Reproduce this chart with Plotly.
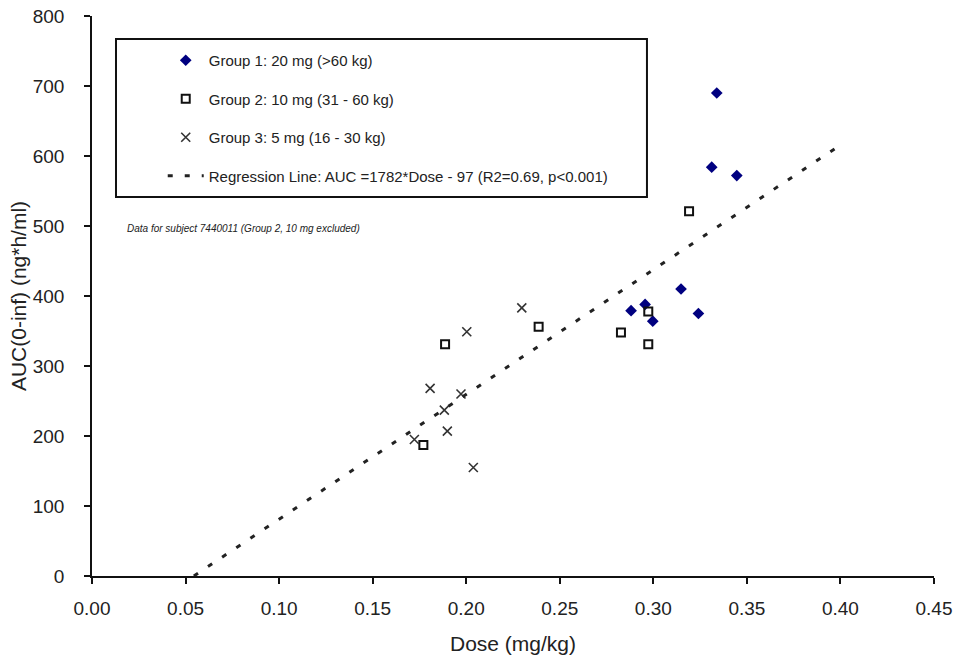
import plotly.graph_objects as go

# Dose (mg/kg) and AUC(0-inf) (ng*h/ml) per subject, by dose group
g1_dose = [0.3339, 0.3312, 0.3446, 0.3148, 0.2881, 0.2956, 0.2997, 0.3241]
g1_auc = [690, 584, 572, 410, 379, 388, 364, 375]

g2_dose = [0.3191, 0.2973, 0.2827, 0.2973, 0.2387, 0.1887, 0.1771]
g2_auc = [521, 378, 348, 331, 356, 331, 187]

g3_dose = [0.2297, 0.2003, 0.1807, 0.1972, 0.1883, 0.1899, 0.1723, 0.2038]
g3_auc = [383, 349, 268, 260, 237, 207, 195, 155]

# Regression: AUC = 1782*Dose - 97, drawn from AUC=0 up to Dose=0.40
reg_slope = 1782
reg_intercept = -97
reg_x_end = 0.40

x_ticks = [0.00, 0.05, 0.10, 0.15, 0.20, 0.25, 0.30, 0.35, 0.40, 0.45]
y_ticks = [0, 100, 200, 300, 400, 500, 600, 700, 800]

FONT = "Liberation Sans, Arial, sans-serif"
TXT = "#222222"

reg_x = [-reg_intercept / reg_slope, reg_x_end]
reg_y = [reg_slope * x + reg_intercept for x in reg_x]

fig = go.Figure()
fig.add_trace(go.Scatter(
    x=g1_dose, y=g1_auc, mode="markers", name="Group 1: 20 mg (>60 kg)",
    legendgroup="g1",
    marker=dict(symbol="diamond", size=9, color="#000080",
                line=dict(width=0)),
))
fig.add_trace(go.Scatter(
    x=g2_dose, y=g2_auc, mode="markers", name="Group 2: 10 mg (31 - 60 kg)",
    legendgroup="g2",
    marker=dict(symbol="square-open", size=8, color="#111111",
                line=dict(width=2, color="#111111")),
))
fig.add_trace(go.Scatter(
    x=g3_dose, y=g3_auc, mode="markers", name="Group 3: 5 mg (16 - 30 kg)",
    legendgroup="g3",
    marker=dict(symbol="x-thin", size=9, color="#333333",
                line=dict(width=1.6, color="#333333")),
))
fig.add_trace(go.Scatter(
    x=reg_x, y=reg_y, mode="lines",
    name="Regression Line: AUC =1782*Dose - 97 (R2=0.69, p<0.001)",
    legendgroup="reg",
    line=dict(color="#222222", width=3, dash="5px,12px"),
))

fig.update_layout(
    width=959, height=657,
    margin=dict(l=92, r=25, t=16, b=81),
    paper_bgcolor="white", plot_bgcolor="white",
    font=dict(family=FONT, color=TXT),
    showlegend=True,
    legend=dict(
        x=0.084, y=0.950, xanchor="left", yanchor="top",
        bgcolor="rgba(0,0,0,0)", borderwidth=0,
        font=dict(size=15, family=FONT, color=TXT),
        tracegroupgap=16, itemwidth=36,
    ),
    xaxis=dict(
        range=[0, 0.45], tickvals=x_ticks, tickformat=".2f",
        automargin=False,
        showgrid=False, zeroline=False,
        showline=True, linecolor="#111111", linewidth=1.5,
        ticks="outside", ticklen=6, tickwidth=1.5, tickcolor="#111111",
        ticklabelstandoff=8,
        tickfont=dict(size=19, family=FONT, color=TXT),
        title=dict(text="Dose (mg/kg)", font=dict(size=21, family=FONT, color=TXT),
                   standoff=19),
    ),
    yaxis=dict(
        range=[0, 800], tickvals=y_ticks,
        automargin=False,
        showgrid=False, zeroline=False,
        showline=True, linecolor="#111111", linewidth=1.5,
        ticks="outside", ticklen=6, tickwidth=1.5, tickcolor="#111111",
        ticklabelstandoff=16,
        tickfont=dict(size=19, family=FONT, color=TXT),
        title=dict(text="AUC(0-inf) (ng*h/ml)", font=dict(size=21, family=FONT, color=TXT),
                   standoff=0),
    ),
    shapes=[dict(
        type="rect", xref="paper", yref="paper",
        x0=0.0285, x1=0.6591, y0=0.6768, y1=0.9589,
        line=dict(color="#111111", width=2), fillcolor="rgba(0,0,0,0)",
        layer="above",
    )],
    annotations=[dict(
        xref="paper", yref="paper", x=0.0392, y=0.6214,
        xanchor="left", yanchor="middle", showarrow=False,
        text="<i>Data for subject 7440011 (Group 2, 10 mg excluded)</i>",
        font=dict(size=10, family=FONT, color=TXT),
    )],
)

fig.write_html("out.html")
